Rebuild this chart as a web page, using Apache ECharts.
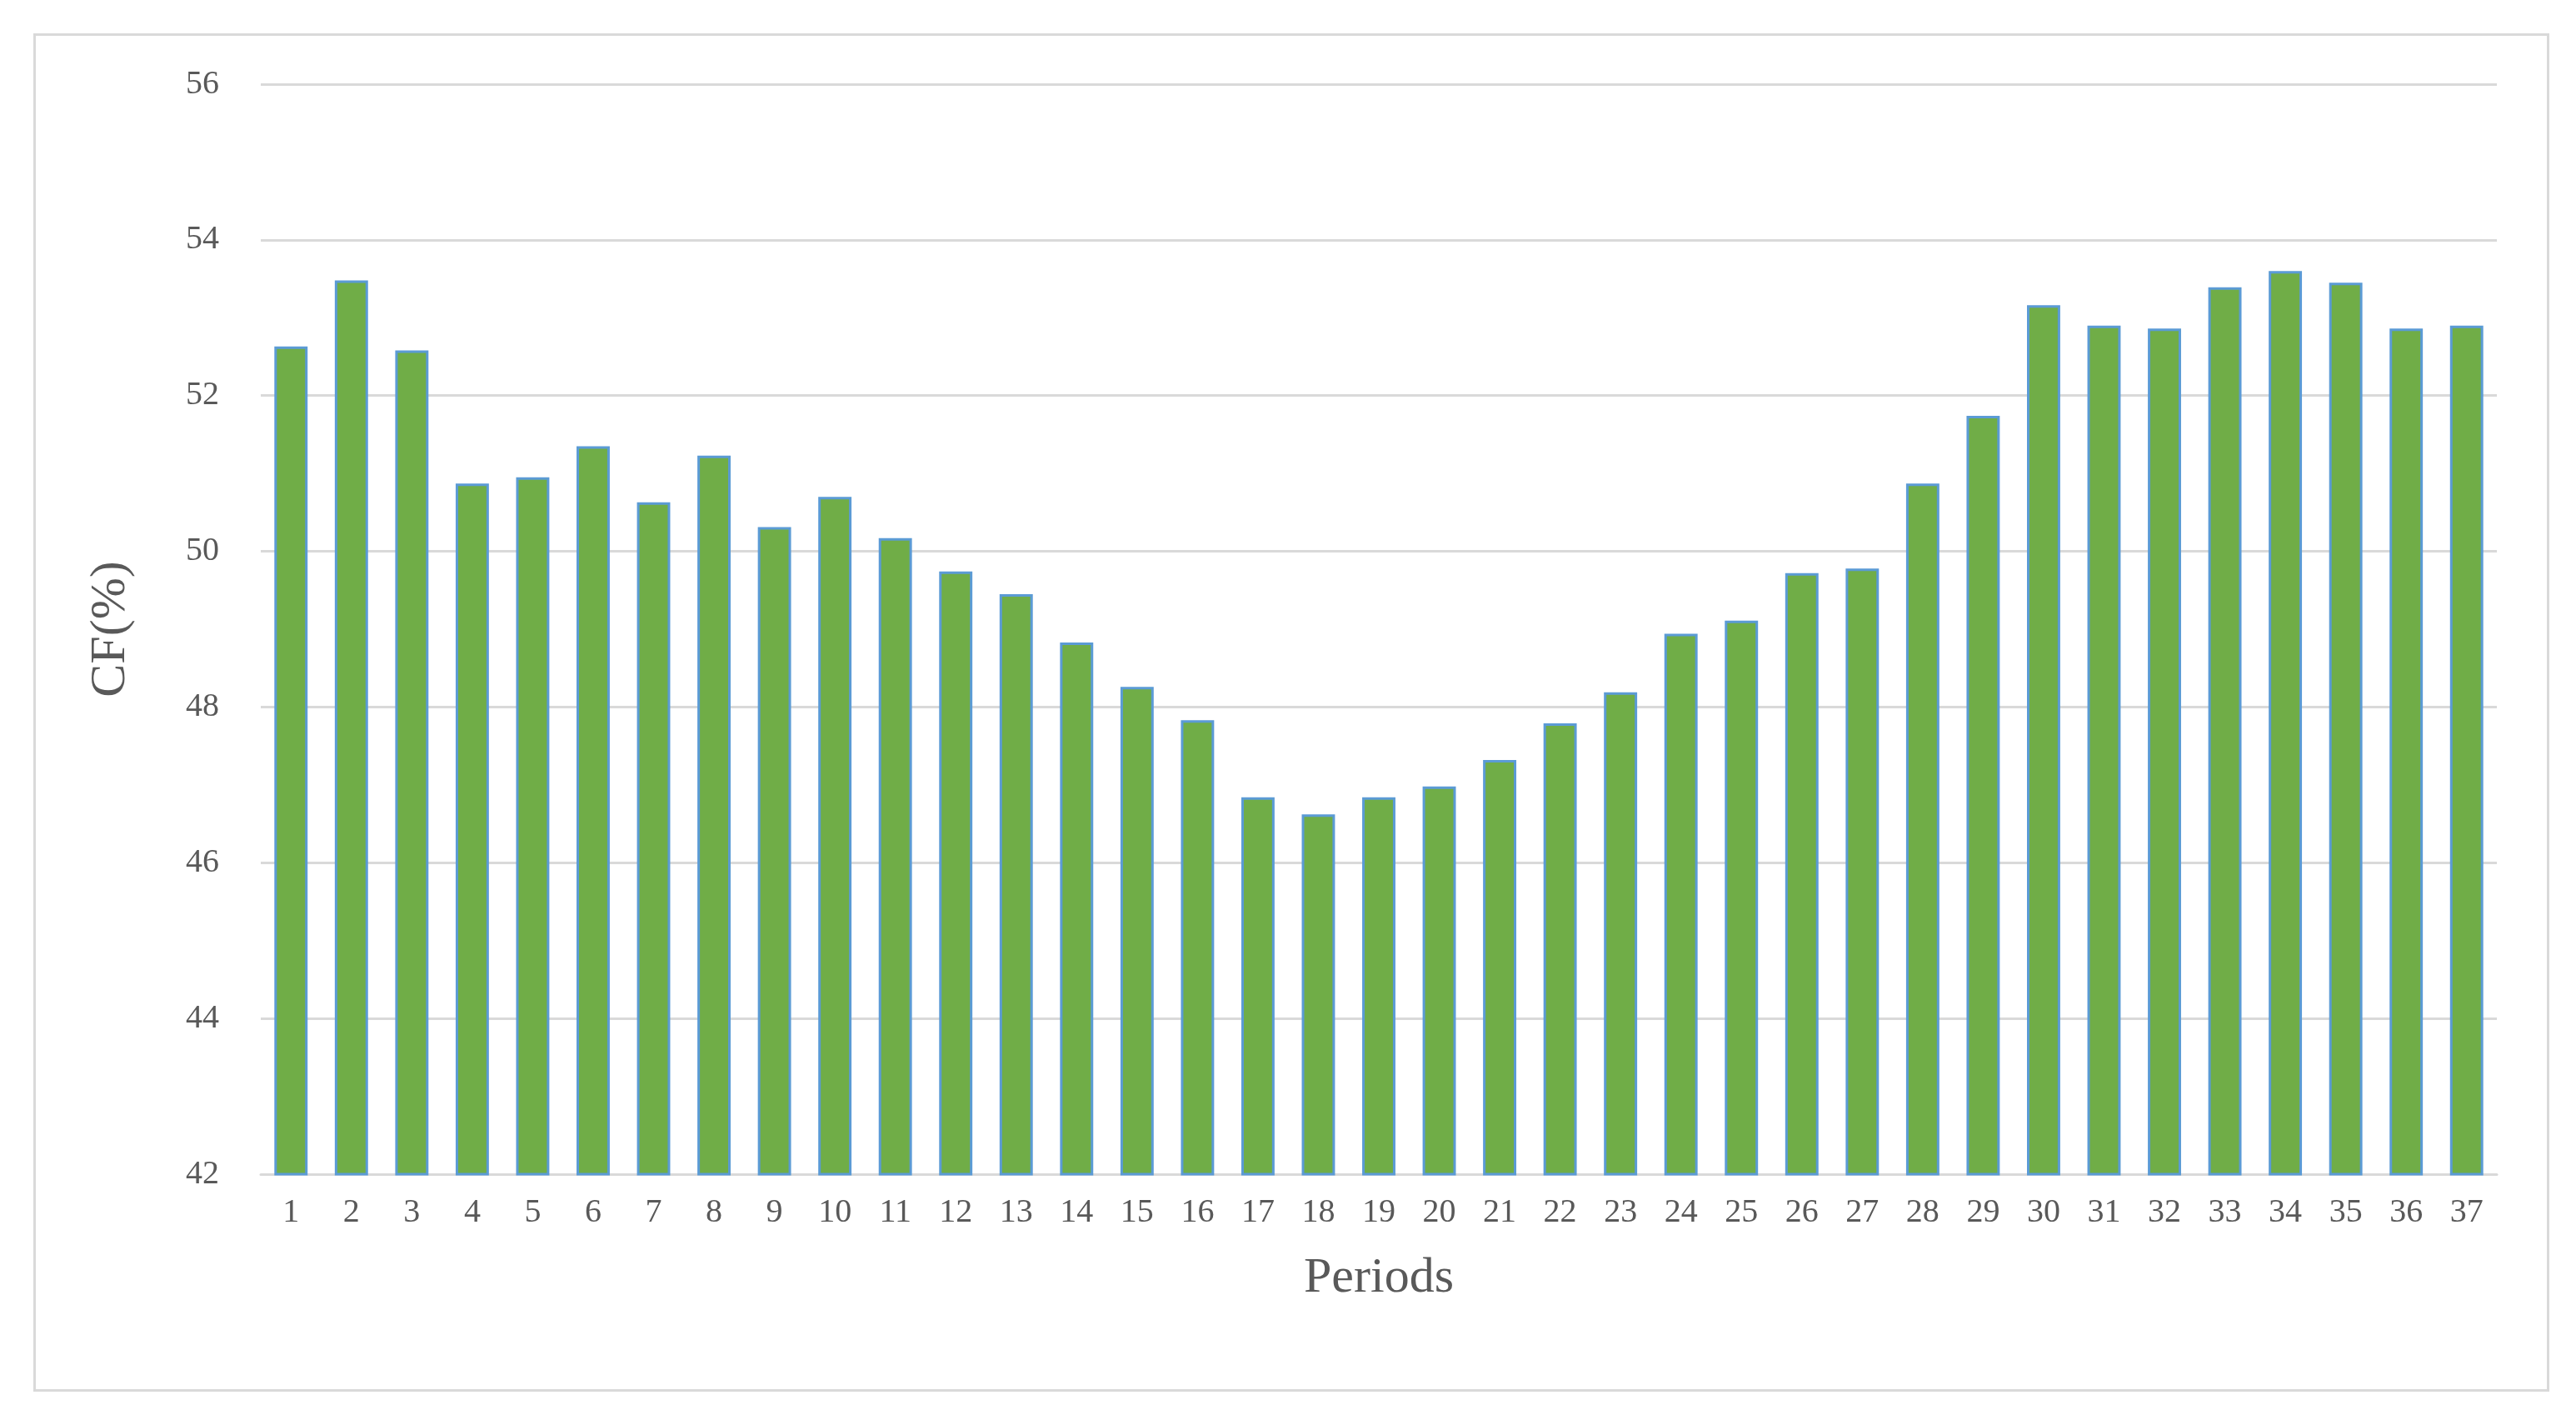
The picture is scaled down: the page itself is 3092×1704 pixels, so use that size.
<!DOCTYPE html>
<html><head><meta charset="utf-8">
<script src="https://cdn.jsdelivr.net/npm/echarts@6/dist/echarts.min.js"></script>
<style>html,body{margin:0;padding:0;background:#fff}#frame{position:absolute;left:40px;top:40px;width:3020px;height:1630px;border:3px solid #d9d9d9;box-sizing:border-box}#c{position:absolute;left:0;top:0;width:3092px;height:1704px}</style>
</head><body><div id="frame"></div><div id="c"></div>
<script>
const categories = Array.from({length:37},(_,i)=>String(i+1));
const cfValues = [52.63,53.48,52.58,50.87,50.95,51.35,50.63,51.23,50.31,50.70,50.17,49.74,49.45,48.83,48.26,47.83,46.84,46.62,46.84,46.98,47.32,47.79,48.19,48.94,49.11,49.72,49.78,50.87,51.74,53.16,52.90,52.86,53.39,53.60,53.45,52.86,52.90];
const chart = echarts.init(document.getElementById('c'));
const font = 'Liberation Serif';
chart.setOption({
  animation:false,
  grid:{left:313,right:95,top:101,bottom:295},
  xAxis:{type:'category',data:categories,name:'Periods',nameLocation:'middle',nameGap:95,
    nameTextStyle:{fontFamily:font,fontSize:60,color:'#595959'},
    axisLine:{lineStyle:{color:'#d9d9d9',width:3}},axisTick:{show:false},
    axisLabel:{fontFamily:font,fontSize:40,color:'#595959',margin:26}},
  yAxis:{type:'value',min:42,max:56,interval:2,name:'CF(%)',nameLocation:'middle',nameGap:150,
    nameTextStyle:{fontFamily:font,fontSize:60,color:'#595959'},
    axisLine:{show:false},axisTick:{show:false},
    splitLine:{lineStyle:{color:'#d9d9d9',width:3}},
    axisLabel:{fontFamily:font,fontSize:40,color:'#595959',margin:50}},
  series:[{type:'bar',data:cfValues,barWidth:'55%',
    itemStyle:{color:'#70AD47',borderColor:'#5B9BD5',borderWidth:3}}]
});
</script></body></html>
